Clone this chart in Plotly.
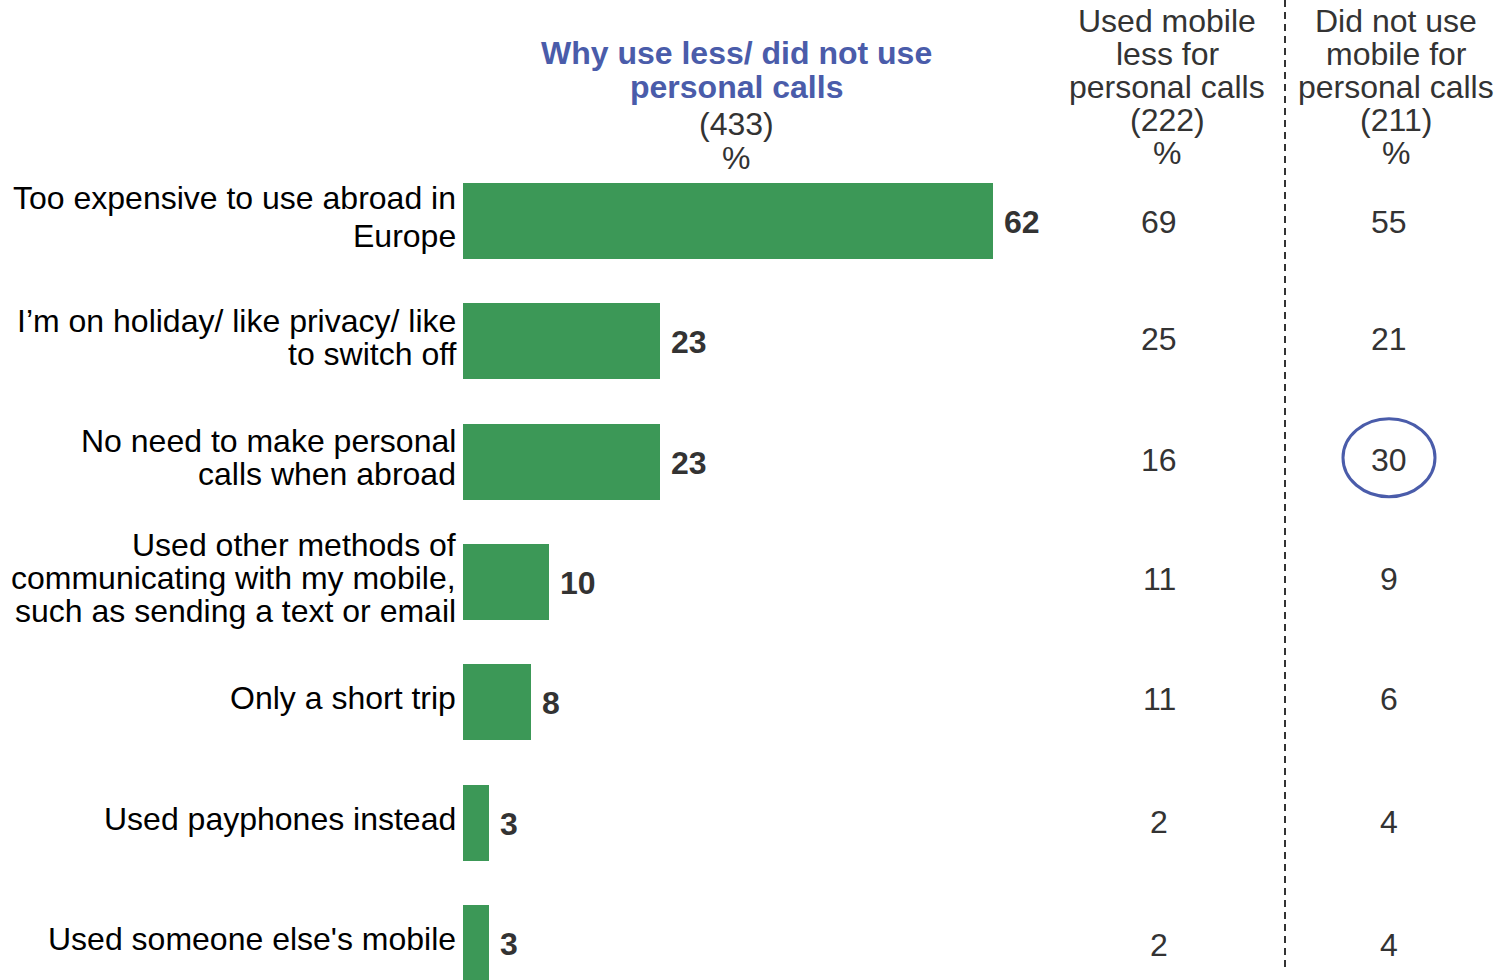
import plotly.graph_objects as go

# Survey data
reasons = [
    "Too expensive to use abroad in<br>Europe",
    "I\u2019m on holiday/ like privacy/ like<br>to switch off",
    "No need to make personal<br>calls when abroad",
    "Used other methods of<br>communicating with my mobile,<br>such as sending a text or email",
    "Only a short trip",
    "Used payphones instead",
    "Used someone else's mobile",
]
total_pct = [62, 23, 23, 10, 8, 3, 3]
used_less_pct = [69, 25, 16, 11, 11, 2, 2]
did_not_use_pct = [55, 21, 30, 9, 6, 4, 4]

title_lines = ["<b>Why use less/ did not use</b>", "<b>personal calls</b>", "(433)", "%"]
col1_header = ["Used mobile", "less for", "personal calls", "(222)", "%"]
col2_header = ["Did not use", "mobile for", "personal calls", "(211)", "%"]
highlight_row = 2  # value circled in the second column

# Geometry (pixels)
W, H = 1499, 980
FONT = "Liberation Sans, Arial, sans-serif"
FS = 32
bar_x0 = 463
px_per_unit = 8.55
row0_px = 221
row_pitch = 120.33
bar_px = 76
col1_x, col2_x = 1159, 1389
col1_hx, col2_hx = 1167, 1396
divider_x = 1285

GREEN = "#3C9857"
BLUE = "#4A5CAA"
DARK = "#333333"

n = len(reasons)
ys = list(range(n))

fig = go.Figure()
fig.add_trace(go.Bar(
    x=total_pct, y=ys, orientation="h",
    marker=dict(color=GREEN, line=dict(width=0)),
    width=bar_px / row_pitch, hoverinfo="skip",
))

def px_to_paper_y(py):
    return 1 - py / H

annotations = []

# Category labels, one annotation per line, right-aligned
line_pitch = [38, 33, 33, 33, 33, 33, 33]
for i, label in enumerate(reasons):
    lines = label.split("<br>")
    k = len(lines)
    for j, line in enumerate(lines):
        off = (j - (k - 1) / 2) * line_pitch[i] - 4
        annotations.append(dict(
            x=(bar_x0 - 5) / W, xref="paper", xanchor="right",
            y=i, yref="y", yanchor="middle", yshift=-off,
            text=line, showarrow=False,
            font=dict(family=FONT, size=FS, color="#000000"),
        ))

# Bar value labels
for i, v in enumerate(total_pct):
    annotations.append(dict(
        x=v, xref="x", xanchor="left", xshift=9,
        y=i, yref="y", yanchor="middle", yshift=-1,
        text=f"<b>{v}</b>", showarrow=False,
        font=dict(family=FONT, size=FS, color=DARK),
    ))

# Sub-group columns
col_shift = [-2, 1, 1, 2, 2, 0, -3]
for col_vals, cx in ((used_less_pct, col1_x), (did_not_use_pct, col2_x)):
    for i, v in enumerate(col_vals):
        annotations.append(dict(
            x=cx / W, xref="paper", xanchor="center",
            y=i, yref="y", yanchor="middle", yshift=col_shift[i] + 1,
            text=str(v), showarrow=False,
            font=dict(family=FONT, size=FS, color=DARK),
        ))

# Headers
title_y = [53, 87, 124, 158]
for j, t in enumerate(title_lines):
    annotations.append(dict(
        x=736 / W, xref="paper", xanchor="center",
        y=px_to_paper_y(title_y[j]), yref="paper", yanchor="middle",
        text=t, showarrow=False,
        font=dict(family=FONT, size=FS, color=BLUE if j < 2 else DARK),
    ))
head_y = [21, 54, 87, 120, 153]
for hdr, hx in ((col1_header, col1_hx), (col2_header, col2_hx)):
    for j, t in enumerate(hdr):
        annotations.append(dict(
            x=hx / W, xref="paper", xanchor="center",
            y=px_to_paper_y(head_y[j]), yref="paper", yanchor="middle",
            text=t, showarrow=False,
            font=dict(family=FONT, size=FS, color=DARK),
        ))

shapes = [
    dict(type="line", xref="paper", yref="paper",
         x0=divider_x / W, x1=divider_x / W, y0=px_to_paper_y(0), y1=px_to_paper_y(970),
         line=dict(color=DARK, width=2, dash="7px,5px")),
    dict(type="circle", xref="paper", yref="y",
         x0=(col2_x - 46) / W, x1=(col2_x + 46) / W,
         y0=highlight_row - 43 / row_pitch, y1=highlight_row + 35 / row_pitch,
         line=dict(color=BLUE, width=3)),
]

x_max = (W - bar_x0) / px_per_unit
y_top = -row0_px / row_pitch
y_bot = (n - 1) + (H - (row0_px + (n - 1) * row_pitch)) / row_pitch

fig.update_layout(
    width=W, height=H,
    margin=dict(l=0, r=0, t=0, b=0),
    paper_bgcolor="white", plot_bgcolor="white",
    showlegend=False,
    xaxis=dict(domain=[bar_x0 / W, 1], range=[0, x_max], visible=False, fixedrange=True),
    yaxis=dict(range=[y_bot, y_top], visible=False, fixedrange=True),
    annotations=annotations, shapes=shapes,
    bargap=0,
)

fig.write_html("out.html", config={"displayModeBar": False})
